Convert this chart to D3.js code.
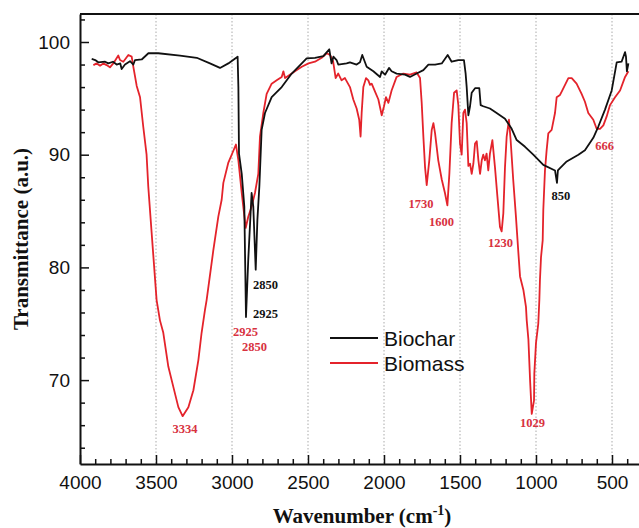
<!DOCTYPE html>
<html>
<head>
<meta charset="utf-8">
<script src="https://cdn.jsdelivr.net/npm/d3@7"></script>
<style>
  body { margin: 0; background: #fff; }
  .tick text { font-family: "Liberation Sans", Arial, sans-serif; font-size: 19px; fill: #111; }
</style>
</head>
<body>
<div id="chart"></div>
<script>
// FTIR spectra, [wavenumber cm-1, transmittance a.u.]
var biochar = [
  [3923,98.5],[3900,98.4],[3880,98.2],[3835,98.25],[3814,98.1],[3783,98.25],[3759,98.0],[3735,98.1],
  [3726,97.6],[3704,98.0],[3671,98.3],[3649,98.0],[3638,98.4],[3594,98.45],[3550,99.0],[3485,99.0],
  [3342,98.8],[3232,98.6],[3145,98.1],[3079,97.7],[3024,98.1],[2963,98.7],[2958,96.0],[2954,90.1],
  [2936,88.3],[2919,85.4],[2908,75.6],[2893,80.7],[2871,86.6],[2860,85.4],[2844,79.8],[2833,84.2],
  [2820,87.2],[2805,92.2],[2783,93.7],[2739,95.1],[2673,96.0],[2607,97.2],[2541,98.1],[2509,98.55],
  [2454,98.6],[2399,98.75],[2360,99.35],[2345,98.1],[2333,98.7],[2312,98.4],[2301,98.0],[2246,98.1],
  [2224,98.2],[2180,98.0],[2158,98.2],[2143,98.85],[2114,97.8],[2070,97.4],[2026,96.9],[2015,97.4],
  [1993,97.1],[1967,97.7],[1950,97.4],[1917,97.2],[1862,97.1],[1829,96.9],[1785,97.2],[1741,97.5],
  [1708,98.0],[1664,98.0],[1620,98.1],[1581,98.85],[1555,98.25],[1511,98.4],[1474,98.4],[1463,97.2],
  [1456,96.0],[1445,93.5],[1434,94.3],[1423,95.5],[1401,95.9],[1373,95.9],[1364,94.4],[1347,94.3],
  [1303,94.1],[1259,93.7],[1204,93.2],[1160,92.3],[1127,91.3],[1072,90.7],[1018,90.0],[952,89.1],
  [875,88.6],[862,87.5],[856,88.6],[842,88.8],[798,89.4],[721,90.0],[678,90.4],[623,91.5],[590,92.5],
  [546,94.0],[502,95.7],[469,98.2],[437,98.25],[414,99.1],[408,98.7],[402,97.4],[392,98.1]
];

var biomass = [
  [3912,97.95],[3890,98.1],[3868,97.9],[3847,98.1],[3825,97.95],[3803,97.75],[3781,98.1],[3748,98.8],
  [3737,98.4],[3715,98.25],[3682,98.85],[3660,98.7],[3649,97.8],[3627,96.1],[3605,95.1],[3584,92.5],
  [3562,90.0],[3551,87.2],[3525,82.4],[3496,77.1],[3474,75.3],[3452,74.2],[3419,71.2],[3386,69.4],
  [3353,67.6],[3325,66.8],[3287,67.6],[3254,69.1],[3221,71.8],[3200,74.2],[3178,76.2],[3167,77.1],
  [3123,81.5],[3090,84.5],[3068,86.0],[3057,87.5],[3024,89.3],[2991,90.35],[2974,90.9],[2958,89.5],
  [2936,86.6],[2910,83.5],[2893,84.5],[2871,85.4],[2849,86.6],[2827,88.3],[2816,91.6],[2794,93.7],
  [2772,95.4],[2739,96.3],[2706,96.6],[2673,96.9],[2662,97.4],[2651,96.8],[2607,97.2],[2586,97.4],
  [2541,97.8],[2497,98.1],[2454,98.25],[2410,98.6],[2377,99.0],[2355,98.85],[2335,98.3],[2318,96.8],
  [2301,97.2],[2279,96.6],[2257,96.8],[2224,96.0],[2202,94.9],[2180,94.1],[2163,93.1],[2154,91.6],
  [2147,93.7],[2136,96.0],[2118,96.8],[2103,96.6],[2092,96.2],[2081,96.3],[2059,95.6],[2037,94.9],
  [2015,93.5],[2000,94.3],[1987,95.1],[1971,94.6],[1950,95.7],[1917,96.9],[1873,97.2],[1829,97.1],
  [1785,97.3],[1763,96.8],[1752,94.6],[1741,91.6],[1730,88.9],[1719,87.3],[1702,89.5],[1686,92.2],
  [1675,92.8],[1664,91.9],[1643,89.5],[1620,87.8],[1599,86.6],[1583,85.5],[1570,88.3],[1555,92.8],
  [1539,95.5],[1522,95.7],[1511,94.4],[1500,91.0],[1489,90.0],[1478,93.7],[1467,94.0],[1456,92.8],
  [1445,89.0],[1434,89.2],[1423,88.3],[1412,89.2],[1401,91.0],[1390,91.2],[1379,89.5],[1368,88.3],
  [1357,89.5],[1347,90.0],[1336,89.5],[1325,90.1],[1314,88.6],[1303,90.1],[1287,91.3],[1270,88.9],
  [1254,86.3],[1237,83.6],[1226,83.2],[1215,84.8],[1204,88.9],[1193,91.6],[1178,93.1],[1167,91.3],
  [1150,87.8],[1132,84.5],[1117,81.5],[1105,79.2],[1083,78.0],[1066,76.5],[1061,75.3],[1050,73.6],
  [1039,70.0],[1028,67.0],[1013,68.2],[1011,70.6],[1000,73.3],[985,75.0],[978,77.1],[974,78.9],
  [967,80.9],[956,82.4],[952,85.1],[941,88.6],[930,90.4],[919,91.9],[897,92.2],[875,93.7],[864,95.1],
  [842,95.3],[831,95.6],[809,96.2],[787,96.8],[765,96.8],[733,96.3],[700,95.4],[678,94.7],[656,93.7],
  [623,93.1],[601,92.3],[579,92.3],[557,92.6],[535,93.4],[513,94.4],[480,95.1],[447,95.7],[414,96.9],
  [392,97.4]
];

var xTicks = [4000, 3500, 3000, 2500, 2000, 1500, 1000, 500];
var yTicks = [70, 80, 90, 100];
var gridLines = [3500, 3000, 2500, 2000, 1500, 1000, 500];

// peak labels: [text, wavenumber, transmittance, series]
var peakLabels = [
  ["3334", 3309, 65.35, "biomass"],
  ["2850", 2780, 78.1, "biochar"],
  ["2925", 2780, 75.55, "biochar"],
  ["2925", 2911, 73.9, "biomass"],
  ["2850", 2852, 72.55, "biomass"],
  ["1730", 1757, 85.3, "biomass"],
  ["1600", 1622, 83.7, "biomass"],
  ["1230", 1234, 81.8, "biomass"],
  ["850", 836, 86.0, "biochar"],
  ["666", 549, 90.4, "biomass"],
  ["1029", 1023, 65.8, "biomass"]
];

var colors = { biochar: "#111111", biomass: "#e4232b" };
var labelColors = { biochar: "#111111", biomass: "#d8323f" };

var width = 639, height = 528;
var plotLeft = 80, plotTop = 14, plotBottom = 464, plotRight = 641;

var svg = d3.select("#chart").append("svg")
  .attr("width", width)
  .attr("height", height);

var x = d3.scaleLinear()
  .domain([4000, 4000 - (plotRight - plotLeft) / 0.152])
  .range([plotLeft, plotRight]);
var y = d3.scaleLinear()
  .domain([100 - (plotBottom - 42) / 11.27, 100 + (42 - plotTop) / 11.27])
  .range([plotBottom, plotTop]);

// dotted vertical grid
svg.append("g").selectAll("line")
  .data(gridLines)
  .enter().append("line")
  .attr("x1", function(d) { return x(d); })
  .attr("x2", function(d) { return x(d); })
  .attr("y1", plotTop)
  .attr("y2", plotBottom)
  .attr("stroke", "#aaa")
  .attr("stroke-width", 1)
  .attr("stroke-dasharray", "1.5,2");

// minor ticks
var xMinor = d3.range(4000, 300, -100).filter(function(d) { return d % 500 != 0; });
var yMinor = d3.range(64, 103, 2).filter(function(d) { return d % 10 != 0; });

svg.append("g")
  .attr("transform", "translate(0," + plotBottom + ")")
  .call(d3.axisBottom(x).tickValues(xMinor).tickSize(-5).tickFormat(""))
  .call(function(g) { g.select(".domain").remove(); })
  .selectAll("line").attr("stroke", "#111").attr("stroke-width", 1.5);

svg.append("g")
  .attr("transform", "translate(" + plotLeft + ",0)")
  .call(d3.axisLeft(y).tickValues(yMinor).tickSize(-5).tickFormat(""))
  .call(function(g) { g.select(".domain").remove(); })
  .selectAll("line").attr("stroke", "#111").attr("stroke-width", 1.5);

// main axes
var xAxis = svg.append("g")
  .attr("transform", "translate(0," + plotBottom + ")")
  .call(d3.axisBottom(x).tickValues(xTicks).tickSize(-9).tickSizeOuter(0).tickPadding(12).tickFormat(d3.format("d")));
xAxis.select(".domain").attr("stroke", "#111").attr("stroke-width", 2);
xAxis.selectAll(".tick line").attr("stroke", "#111").attr("stroke-width", 1.5);

var yAxis = svg.append("g")
  .attr("transform", "translate(" + plotLeft + ",0)")
  .call(d3.axisLeft(y).tickValues(yTicks).tickSize(-9).tickSizeOuter(0).tickPadding(10));
yAxis.select(".domain").attr("stroke", "#111").attr("stroke-width", 2);
yAxis.selectAll(".tick line").attr("stroke", "#111").attr("stroke-width", 1.5);

// top frame
svg.append("line")
  .attr("x1", plotLeft).attr("x2", plotRight)
  .attr("y1", plotTop).attr("y2", plotTop)
  .attr("stroke", "#111").attr("stroke-width", 2);

// spectra
var line = d3.line()
  .x(function(d) { return x(d[0]); })
  .y(function(d) { return y(d[1]); });

svg.append("path")
  .datum(biomass)
  .attr("d", line)
  .attr("fill", "none")
  .attr("stroke", colors.biomass)
  .attr("stroke-width", 1.8)
  .attr("stroke-linejoin", "round");

svg.append("path")
  .datum(biochar)
  .attr("d", line)
  .attr("fill", "none")
  .attr("stroke", colors.biochar)
  .attr("stroke-width", 1.8)
  .attr("stroke-linejoin", "round");

// peak labels
svg.append("g").selectAll("text")
  .data(peakLabels)
  .enter().append("text")
  .attr("x", function(d) { return x(d[1]); })
  .attr("y", function(d) { return y(d[2]); })
  .attr("text-anchor", "middle")
  .attr("font-family", "Liberation Serif, Times New Roman, serif")
  .attr("font-weight", "bold")
  .attr("font-size", "12.5px")
  .attr("fill", function(d) { return labelColors[d[3]]; })
  .text(function(d) { return d[0]; });

// legend
var legendItems = [["Biochar", "biochar"], ["Biomass", "biomass"]];
var legend = svg.append("g")
  .attr("transform", "translate(330,338)")
  .selectAll("g").data(legendItems)
  .enter().append("g")
  .attr("transform", function(d, i) { return "translate(0," + i * 25 + ")"; });

legend.append("line")
  .attr("x1", 0).attr("x2", 48)
  .attr("y1", 0).attr("y2", 0)
  .attr("stroke", function(d) { return colors[d[1]]; })
  .attr("stroke-width", 2);

legend.append("text")
  .attr("x", 54)
  .attr("y", 7.5)
  .attr("font-family", "Liberation Sans, Arial, sans-serif")
  .attr("font-size", "21px")
  .attr("fill", "#111")
  .text(function(d) { return d[0]; });

// axis titles
svg.append("text")
  .attr("transform", "translate(28,239) rotate(-90)")
  .attr("text-anchor", "middle")
  .attr("font-family", "Liberation Serif, Times New Roman, serif")
  .attr("font-weight", "bold")
  .attr("font-size", "21px")
  .attr("fill", "#111")
  .text("Transmittance (a.u.)");

var xTitle = svg.append("text")
  .attr("x", 362)
  .attr("y", 523)
  .attr("text-anchor", "middle")
  .attr("font-family", "Liberation Serif, Times New Roman, serif")
  .attr("font-weight", "bold")
  .attr("font-size", "21px")
  .attr("fill", "#111");
xTitle.append("tspan").text("Wavenumber (cm");
xTitle.append("tspan").attr("dy", -8).attr("font-size", "14px").text("-1");
xTitle.append("tspan").attr("dy", 8).text(")");
</script>
</body>
</html>
